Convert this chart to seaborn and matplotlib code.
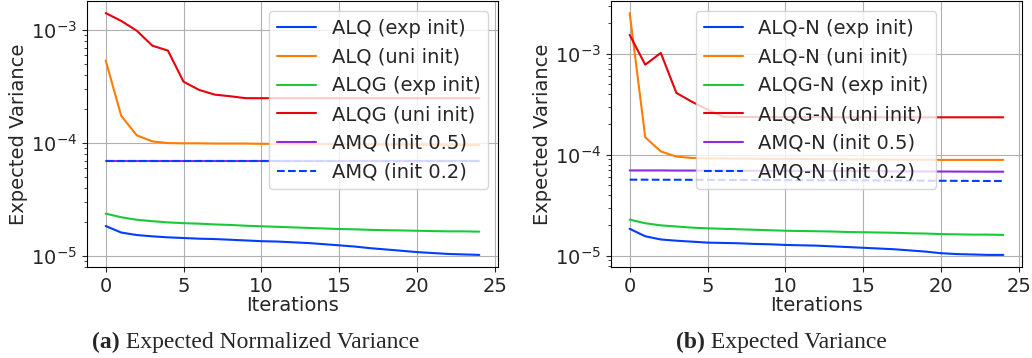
import matplotlib
matplotlib.use("Agg")
import matplotlib.pyplot as plt
import pandas as pd
import seaborn as sns

iterations = list(range(25))

# (a) expected normalized variance
alq_exp_a = [1.84e-5, 1.61e-5, 1.53e-5, 1.49e-5, 1.46e-5, 1.44e-5, 1.42e-5, 1.41e-5, 1.39e-5, 1.37e-5,
             1.35e-5, 1.34e-5, 1.32e-5, 1.30e-5, 1.27e-5, 1.24e-5, 1.21e-5, 1.17e-5, 1.14e-5, 1.11e-5,
             1.08e-5, 1.06e-5, 1.04e-5, 1.03e-5, 1.02e-5]
alq_uni_a = [5.4e-4, 1.74e-4, 1.17e-4, 1.035e-4, 1.0e-4, 9.95e-5, 9.95e-5, 9.9e-5, 9.9e-5, 9.9e-5,
             9.85e-5, 9.85e-5, 9.8e-5, 9.8e-5, 9.8e-5, 9.75e-5, 9.75e-5, 9.7e-5, 9.7e-5, 9.7e-5,
             9.65e-5, 9.65e-5, 9.6e-5, 9.6e-5, 9.6e-5]
alqg_exp_a = [2.37e-5, 2.2e-5, 2.09e-5, 2.03e-5, 1.98e-5, 1.95e-5, 1.93e-5, 1.9e-5, 1.88e-5, 1.85e-5,
              1.83e-5, 1.81e-5, 1.79e-5, 1.77e-5, 1.75e-5, 1.73e-5, 1.72e-5, 1.7e-5, 1.69e-5, 1.68e-5,
              1.67e-5, 1.66e-5, 1.65e-5, 1.65e-5, 1.64e-5]
alqg_uni_a = [1.42e-3, 1.21e-3, 9.9e-4, 7.3e-4, 6.6e-4, 3.5e-4, 2.96e-4, 2.69e-4, 2.6e-4, 2.5e-4,
              2.5e-4, 2.5e-4, 2.5e-4, 2.5e-4, 2.5e-4, 2.5e-4, 2.5e-4, 2.5e-4, 2.5e-4, 2.5e-4,
              2.5e-4, 2.5e-4, 2.5e-4, 2.5e-4, 2.5e-4]
amq_05_a = [6.98e-5] * 25
amq_02_a = [6.98e-5] * 25

# (b) expected variance
alq_exp_b = [1.85e-5, 1.56e-5, 1.45e-5, 1.41e-5, 1.38e-5, 1.35e-5, 1.34e-5, 1.33e-5, 1.31e-5, 1.30e-5,
             1.28e-5, 1.27e-5, 1.26e-5, 1.24e-5, 1.22e-5, 1.20e-5, 1.18e-5, 1.16e-5, 1.13e-5, 1.10e-5,
             1.06e-5, 1.04e-5, 1.03e-5, 1.02e-5, 1.02e-5]
alq_uni_b = [2.53e-3, 1.49e-4, 1.08e-4, 9.6e-5, 9.3e-5, 9.2e-5, 9.2e-5, 9.15e-5, 9.15e-5, 9.1e-5,
             9.1e-5, 9.1e-5, 9.05e-5, 9.05e-5, 9.0e-5, 9.0e-5, 9.0e-5, 8.95e-5, 8.95e-5, 8.95e-5,
             8.9e-5, 8.9e-5, 8.9e-5, 8.9e-5, 8.9e-5]
alqg_exp_b = [2.28e-5, 2.1e-5, 2.0e-5, 1.95e-5, 1.9e-5, 1.87e-5, 1.85e-5, 1.83e-5, 1.81e-5, 1.79e-5,
              1.77e-5, 1.76e-5, 1.75e-5, 1.74e-5, 1.72e-5, 1.71e-5, 1.7e-5, 1.69e-5, 1.67e-5, 1.66e-5,
              1.64e-5, 1.63e-5, 1.62e-5, 1.62e-5, 1.61e-5]
alqg_uni_b = [1.54e-3, 7.8e-4, 1.02e-3, 4.1e-4, 3.35e-4, 2.8e-4, 2.38e-4, 2.37e-4, 2.37e-4, 2.36e-4,
              2.36e-4, 2.36e-4, 2.36e-4, 2.35e-4, 2.35e-4, 2.35e-4, 2.35e-4, 2.35e-4, 2.35e-4, 2.35e-4,
              2.35e-4, 2.35e-4, 2.35e-4, 2.35e-4, 2.35e-4]
amq_05_b = [7.0e-5, 7.0e-5, 7.0e-5, 6.98e-5, 6.98e-5, 6.97e-5, 6.97e-5, 6.96e-5, 6.95e-5, 6.94e-5,
            6.93e-5, 6.92e-5, 6.91e-5, 6.9e-5, 6.89e-5, 6.88e-5, 6.87e-5, 6.86e-5, 6.85e-5, 6.84e-5,
            6.83e-5, 6.82e-5, 6.81e-5, 6.8e-5, 6.8e-5]
amq_02_b = [5.67e-5, 5.67e-5, 5.66e-5, 5.66e-5, 5.65e-5, 5.65e-5, 5.64e-5, 5.63e-5, 5.62e-5, 5.62e-5,
            5.61e-5, 5.6e-5, 5.6e-5, 5.59e-5, 5.58e-5, 5.58e-5, 5.57e-5, 5.56e-5, 5.55e-5, 5.54e-5,
            5.53e-5, 5.52e-5, 5.51e-5, 5.5e-5, 5.5e-5]

labels_a = ["ALQ (exp init)", "ALQ (uni init)", "ALQG (exp init)", "ALQG (uni init)",
            "AMQ (init 0.5)", "AMQ (init 0.2)"]
labels_b = ["ALQ-N (exp init)", "ALQ-N (uni init)", "ALQG-N (exp init)", "ALQG-N (uni init)",
            "AMQ-N (init 0.5)", "AMQ-N (init 0.2)"]
series_a = [alq_exp_a, alq_uni_a, alqg_exp_a, alqg_uni_a, amq_05_a, amq_02_a]
series_b = [alq_exp_b, alq_uni_b, alqg_exp_b, alqg_uni_b, amq_05_b, amq_02_b]

bright = sns.color_palette("bright")
colors = [bright[0], bright[1], bright[2], bright[3], bright[4], bright[0]]


def long_frame(labels, series):
    rows = []
    for label, values in zip(labels, series):
        rows.append(pd.DataFrame({"iteration": iterations, "value": values, "method": label}))
    return pd.concat(rows, ignore_index=True)


sns.set_theme(style="ticks", rc={
    "axes.grid": True,
    "grid.color": "#b0b0b0",
    "grid.linewidth": 0.8,
    "axes.edgecolor": "black",
    "axes.linewidth": 0.8,
    "xtick.direction": "out",
    "ytick.direction": "out",
})
plt.rcParams["font.family"] = ["DejaVu Sans"]

FS = 14

fig = plt.figure(figsize=(10.32, 3.58), dpi=100)
ax_a = fig.add_axes([87 / 1032, 91 / 358, 411 / 1032, 266 / 358])
ax_b = fig.add_axes([611 / 1032, 91 / 358, 411 / 1032, 266 / 358])

panels = [
    (ax_a, labels_a, series_a, "upper right", (0.976, 0.962)),
    (ax_b, labels_b, series_b, "upper left", (0.207, 0.962)),
]
for ax, labels, series, loc, anchor in panels:
    df = long_frame(labels, series)
    palette = dict(zip(labels, colors))
    dashes = {lab: (3.7, 1.6) if "0.2" in lab else "" for lab in labels}
    sns.lineplot(data=df, x="iteration", y="value", hue="method", style="method",
                 palette=palette, dashes=dashes, linewidth=1.5, ax=ax)
    ax.set_yscale("log")
    ax.set_xticks([0, 5, 10, 15, 20, 25])
    ax.set_xlabel("Iterations", fontsize=FS, labelpad=0.5)
    ax.set_ylabel("Expected Variance", fontsize=FS, labelpad=2)
    ax.tick_params(axis="both", which="major", labelsize=FS, length=3.5, width=0.8, bottom=True, left=True)
    ax.tick_params(axis="y", which="minor", length=2, width=0.6, left=True)
    ax.legend(loc=loc, bbox_to_anchor=anchor, fontsize=FS, title=None,
              framealpha=0.8, edgecolor="#cccccc", borderaxespad=0)

cap_font = ["Liberation Serif", "DejaVu Serif"]
t_a = fig.text(92 / 1032, 10 / 358, "(a)", family=cap_font, fontsize=17, fontweight="bold", va="baseline")
ax_a.annotate(" Expected Normalized Variance", xy=(1, 0), xycoords=t_a, va="bottom",
              family=cap_font, fontsize=17, annotation_clip=False)
t_b = fig.text(676 / 1032, 10 / 358, "(b)", family=cap_font, fontsize=17, fontweight="bold", va="baseline")
ax_b.annotate(" Expected Variance", xy=(1, 0), xycoords=t_b, va="bottom",
              family=cap_font, fontsize=17, annotation_clip=False)

fig.savefig("out.png", dpi=100)
